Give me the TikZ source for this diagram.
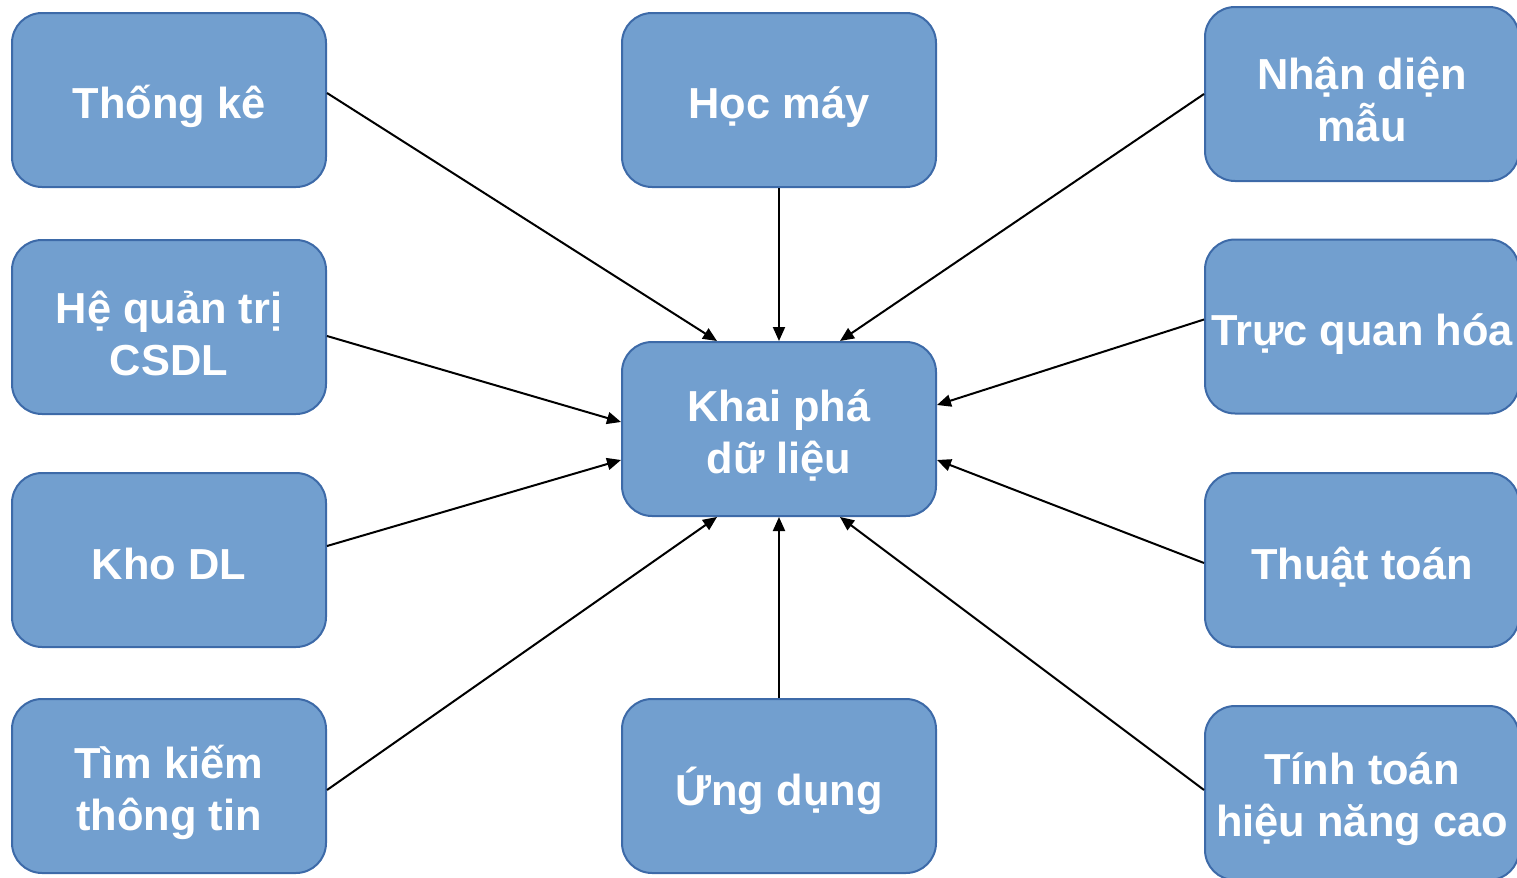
\documentclass[tikz,border=0pt]{standalone}
\usepackage{fontspec}
\setmainfont{Liberation Sans}
\usetikzlibrary{arrows.meta,calc}
\definecolor{boxfill}{RGB}{114,159,207}
\definecolor{boxline}{RGB}{61,106,168}
\tikzset{
  topic/.style={draw=boxline, line width=1pt, fill=boxfill, rounded corners=15pt,
    minimum width=157pt, minimum height=87pt, inner sep=0pt},
  lbl/.style={align=center, text=white, inner sep=0pt, yshift=-3pt,
    font=\fontsize{21.7}{26}\selectfont\bfseries},
  lblone/.style={text=white, inner sep=0pt, text height=24pt, text depth=5pt,
    font=\fontsize{21.7}{26}\selectfont\bfseries},
  link/.style={line width=1pt, -{Triangle[length=7pt,width=6pt]}}
}
\begin{document}
\begin{tikzpicture}[x=0.5pt,y=-0.5pt]
\useasboundingbox (0,0) rectangle (1517,878);
\node[topic, label={[lblone]center:Thống kê}] (tk) at (169,100) {};
\node[topic, label={[lblone]center:Học máy}] (hm) at (779,100) {};
\node[topic, label={[lbl]center:{Nhận diện\\mẫu}}] (nd) at (1362,94) {};
\node[topic, label={[lbl]center:{Hệ quản trị\\CSDL}}] (hq) at (169,327) {};
\node[topic, label={[lbl]center:{Khai phá\\dữ liệu}}] (kp) at (779,429) {};
\node[topic, label={[lblone]center:Trực quan hóa}] (tq) at (1362,326.5) {};
\node[topic, label={[lblone]center:Kho DL}] (kd) at (169,560) {};
\node[topic, label={[lblone]center:Thuật toán}] (tt) at (1362,560) {};
\node[topic, label={[lbl]center:{Tìm kiếm\\thông tin}}] (tim) at (169,786) {};
\node[topic, label={[lblone]center:Ứng dụng}] (ud) at (779,786) {};
\node[topic, label={[lbl]center:{Tính toán\\hiệu năng cao}}] (hn) at (1362,793) {};

\draw[link] ([yshift=3.5pt]tk.east) -- ([xshift=-31pt]kp.north);
\draw[link] (hm.south) -- (kp.north);
\draw[link] (nd.west) -- ([xshift=30.5pt]kp.north);
\draw[link] ([yshift=-4.5pt]hq.east) -- ([yshift=3.5pt]kp.west);
\draw[link] ([yshift=3.5pt]tq.west) -- ([yshift=12pt]kp.east);
\draw[link] ([yshift=7pt]kd.east) -- ([yshift=-15.5pt]kp.west);
\draw[link] ([yshift=-1.5pt]tt.west) -- ([yshift=-15.5pt]kp.east);
\draw[link] ([yshift=-2pt]tim.east) -- ([xshift=-31pt]kp.south);
\draw[link] (ud.north) -- (kp.south);
\draw[link] ([yshift=1.5pt]hn.west) -- ([xshift=30.5pt]kp.south);
\end{tikzpicture}
\end{document}
